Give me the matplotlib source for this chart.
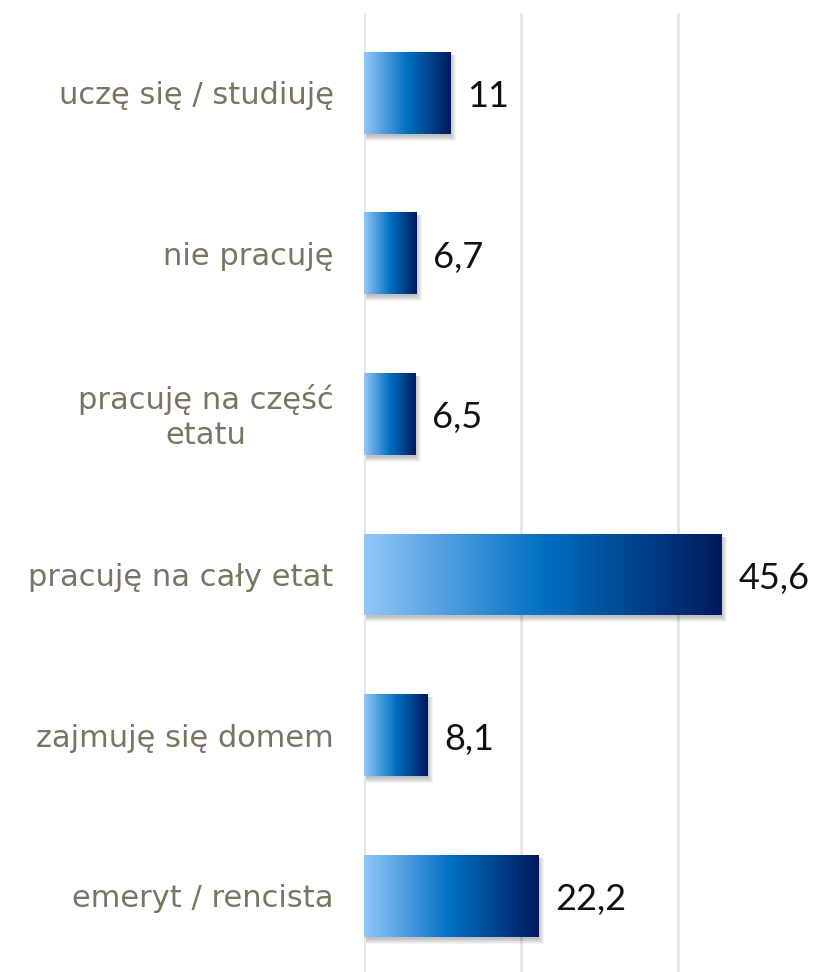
import numpy as np
import matplotlib
matplotlib.use("Agg")
import matplotlib.pyplot as plt
from matplotlib.colors import LinearSegmentedColormap
from matplotlib.patches import Rectangle

categories = ["uczę się / studiuję", "nie pracuję", "pracuję na część\netatu",
              "pracuję na cały etat", "zajmuję się domem", "emeryt / rencista"]
values = [11, 6.7, 6.5, 45.6, 8.1, 22.2]
value_labels = ["11", "6,7", "6,5", "45,6", "8,1", "22,2"]

W, H = 813, 972
fig = plt.figure(figsize=(W / 100, H / 100), dpi=100)
ax = fig.add_axes([363.5 / W, 1 - 976 / H, 1 - 363.5 / W, 963.5 / H])

xmax = (W - 363.5) / 7.85
ax.set_xlim(0, xmax)
n = len(categories)
ax.set_ylim(n - 0.5, -0.5)

for s in ax.spines.values():
    s.set_visible(False)
ax.set_xticks([0, 20, 40])
ax.set_yticks([])
ax.tick_params(axis="x", length=0, labelbottom=False)
ax.grid(axis="x", color="#E3E3E0", linewidth=1.8)
ax.set_axisbelow(True)

cmap = LinearSegmentedColormap.from_list(
    "g", [(0, "#93C6F9"), (0.5, "#0070C2"), (1, "#001A5C")])
grad = np.linspace(0, 1, 256).reshape(1, -1)

ypos = np.arange(n)
bh = 0.51
bars = ax.barh(ypos, values, height=bh, color="none", zorder=3)

px_x = xmax / (W - 363.5)
px_y = n / 963.5
for b, v in zip(bars, values):
    x0, y0 = b.get_x(), b.get_y()
    w, h = b.get_width(), b.get_height()
    for k in range(6):
        off = 1 + k
        ax.add_patch(Rectangle((x0 + 2 * px_x, y0 + 3 * px_y),
                               w + (off - 2) * px_x, h + off * px_y - 2 * px_y,
                               facecolor="#000000", alpha=0.045,
                               edgecolor="none", zorder=2))
    im = ax.imshow(grad, cmap=cmap, aspect="auto",
                   extent=(x0, x0 + w, y0 + h, y0), zorder=4,
                   interpolation="bilinear")
    im.set_clip_path(b)
ax.set_xlim(0, xmax)
ax.set_ylim(n - 0.5, -0.5)

for y, lab in zip(ypos, categories):
    ax.text(-30 * px_x, y + 3 * px_y, lab, ha="right", va="center",
            fontsize=22, color="#7A7560", family="DejaVu Sans",
            linespacing=1.3, multialignment="center")
for y, v, lab in zip(ypos, values, value_labels):
    ax.text(v + 17 * px_x, y + 4 * px_y, lab, ha="left", va="center",
            fontsize=26, color="#111111", family="Lato")

fig.savefig("out.png", dpi=100)
